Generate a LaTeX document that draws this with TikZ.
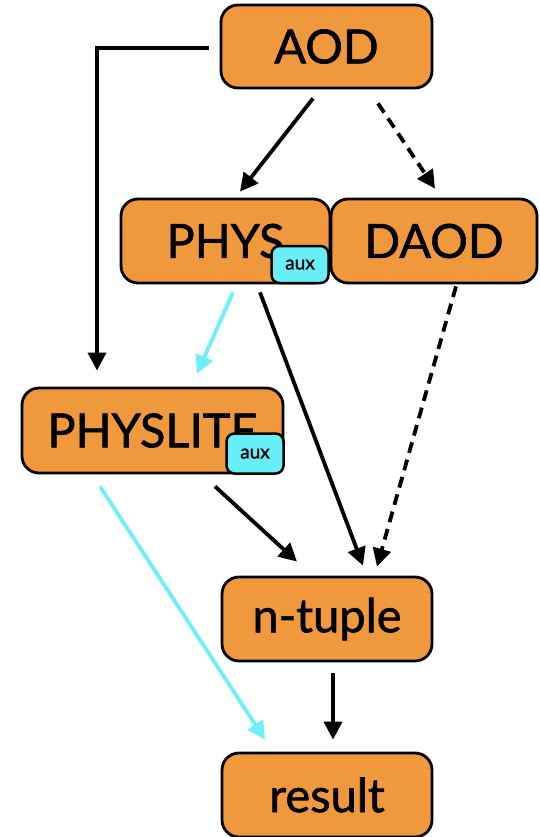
\documentclass[tikz,border=0pt]{standalone}
\usepackage{fontspec}
\setmainfont{Lato}
\newfontfamily\boxfont{Lato}[FakeBold=1.3]
\usetikzlibrary{arrows.meta}

\definecolor{boxorange}{RGB}{240,153,60}
\definecolor{auxcyan}{RGB}{104,238,246}
\definecolor{flowcyan}{RGB}{110,240,250}

\tikzset{
  fmt/.style={draw=black, line width=2.8pt, fill=boxorange, rounded corners=17pt,
    inner sep=0pt, font=\boxfont\fontsize{47}{50}\selectfont},
  auxbox/.style={draw=black, line width=2.5pt, fill=auxcyan, rounded corners=8pt,
    inner sep=0pt, minimum width=57pt, minimum height=37pt,
    font=\boxfont\fontsize{19}{21}\selectfont, text depth=0pt},
  flow/.style={line width=3.8pt, -{Triangle[length=18pt,width=18pt]}},
  solidflow/.style={flow, draw=black},
  dashflow/.style={flow, draw=black, dash pattern=on 11pt off 7pt},
  slimflow/.style={flow, draw=flowcyan}
}

\begin{document}
\begin{tikzpicture}[x=1pt, y=-1pt]
\useasboundingbox (0,0) rectangle (539,837);

% data formats
\node[fmt, minimum width=211pt, minimum height=83pt] (aod) at (326.5,46.5) {AOD};
\node[fmt, minimum width=209pt, minimum height=84pt] (phys) at (225.5,241) {PHYS};
\node[fmt, minimum width=206pt, minimum height=84pt] (daod) at (434,241) {DAOD};
\node[fmt, minimum width=261pt, minimum height=85pt] (physlite) at (152.5,430.5) {PHYSLITE};
\node[fmt, minimum width=210pt, minimum height=84pt] (ntuple) at (327,619) {n-tuple};
\node[fmt, minimum width=210pt, minimum height=84pt] (result) at (327,795) {result};

% auxiliary containers
\node[auxbox] (physaux) at (300,264.5) {aux};
\node[auxbox, minimum height=40pt] (liteaux) at (255,453.5) {aux};

% derivation flow
\draw[solidflow] ([xshift=-11pt,yshift=-1.5pt]aod.west) -| ([xshift=-55.5pt,yshift=16pt]physlite.north);
\draw[solidflow] ([xshift=-13.5pt,yshift=-9pt]aod.south) -- ([xshift=14.5pt,yshift=6pt]phys.north);
\draw[dashflow] ([xshift=51.5pt,yshift=-14pt]aod.south) -- ([xshift=1pt,yshift=9pt]daod.north);
\draw[slimflow] ([xshift=7.5pt,yshift=-8pt]phys.south) -- ([xshift=44.5pt,yshift=13pt]physlite.north);
\draw[solidflow] ([xshift=34.5pt,yshift=-8pt]phys.south) -- ([xshift=36pt,yshift=10pt]ntuple.north);
\draw[dashflow] ([xshift=22pt,yshift=-2pt]daod.south) -- ([xshift=50pt,yshift=9pt]ntuple.north);
\draw[solidflow] ([xshift=62.5pt,yshift=-12pt]physlite.south) -- ([xshift=-30pt,yshift=14pt]ntuple.north);
\draw[slimflow] ([xshift=-52.5pt,yshift=-12pt]physlite.south) -- ([xshift=-62pt,yshift=12pt]result.north);
\draw[solidflow] ([xshift=6pt,yshift=-11pt]ntuple.south) -- ([xshift=6pt,yshift=12pt]result.north);
\end{tikzpicture}
\end{document}
